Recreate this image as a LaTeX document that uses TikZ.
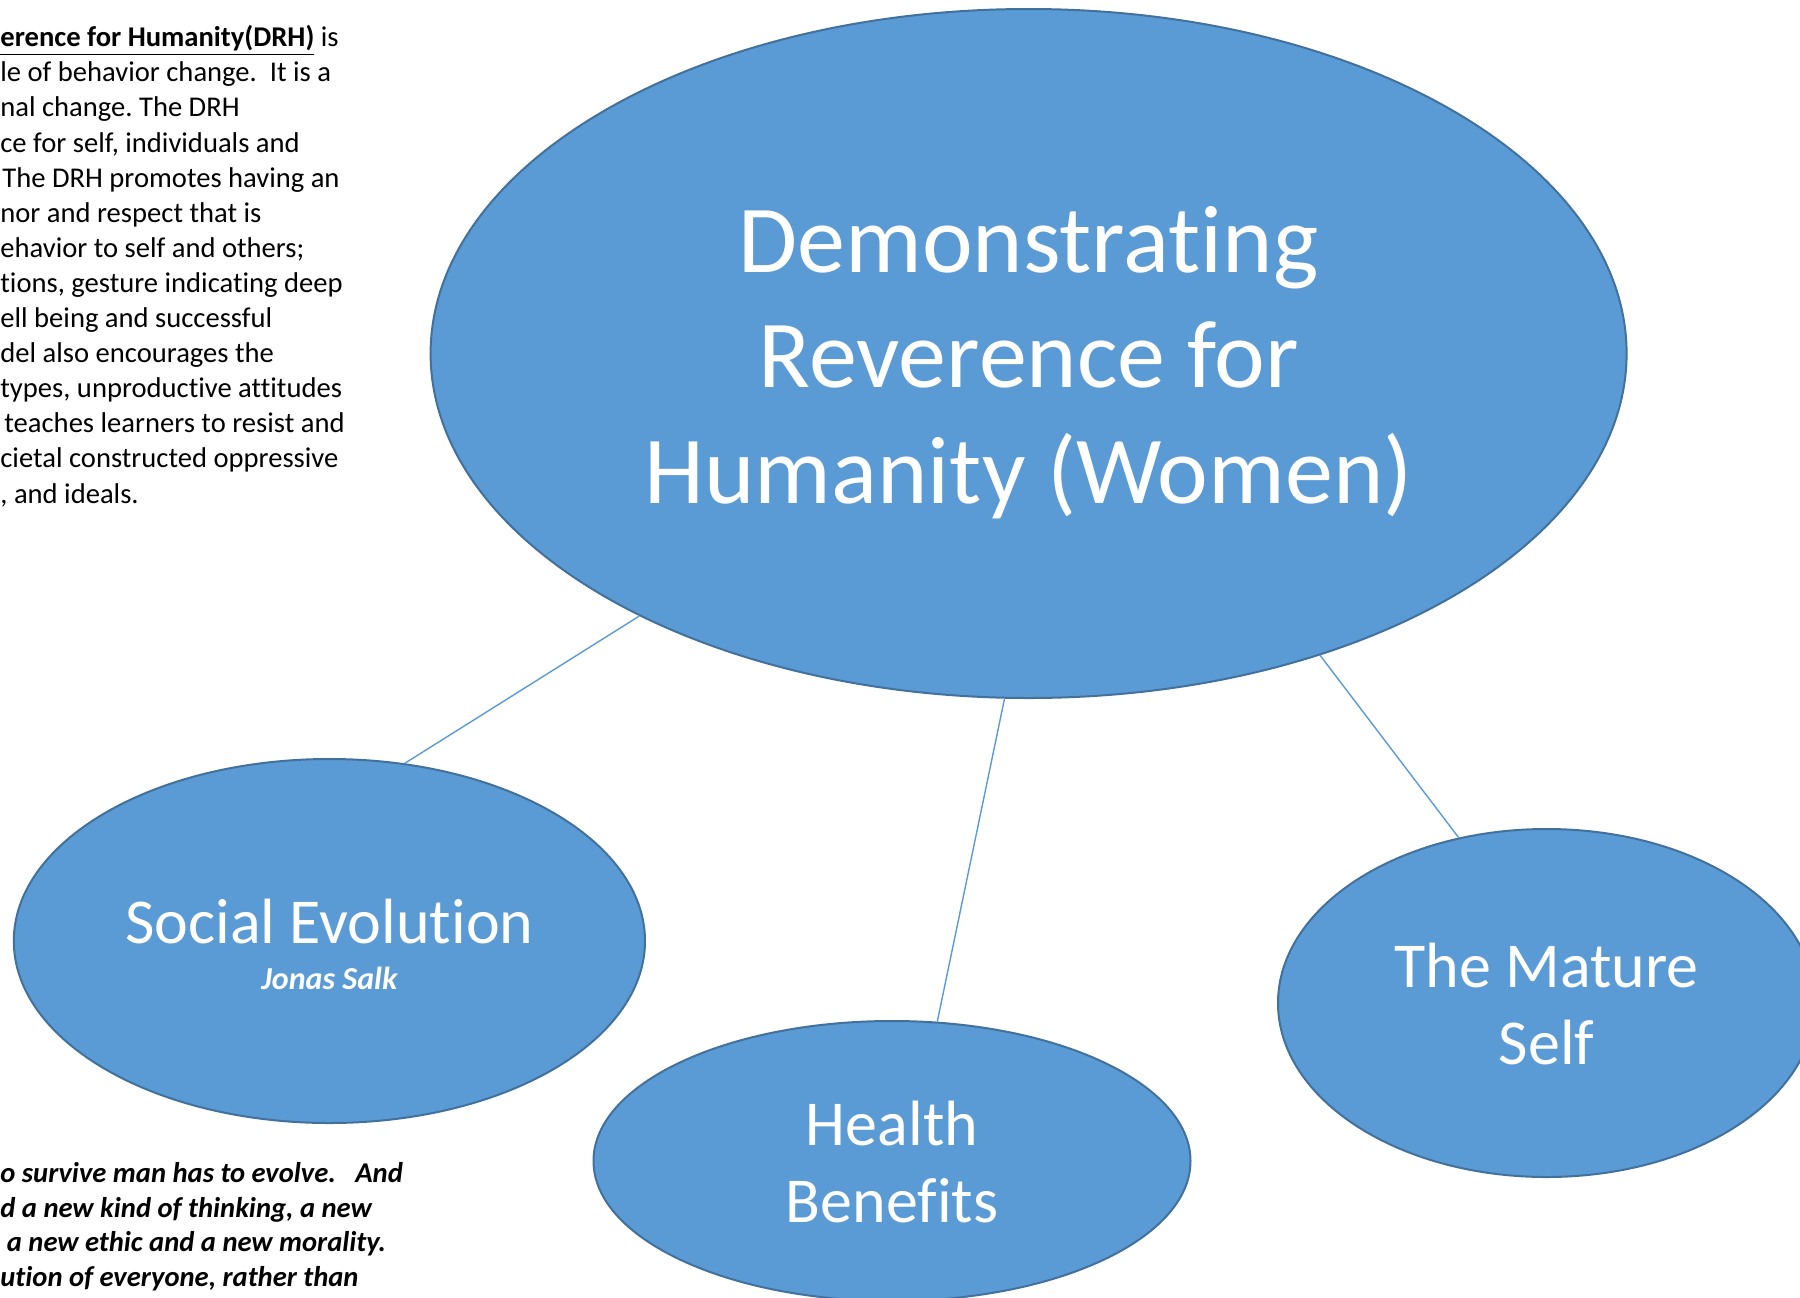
\documentclass[tikz,border=0pt]{standalone}
\usepackage{fontspec}
\setmainfont[Ligatures = NoCommon]{Carlito}
\frenchspacing
\usetikzlibrary{shapes.geometric}
\definecolor{bubblefill}{RGB}{91,155,213}
\definecolor{bubbleline}{RGB}{65,113,156}

\begin{document}
\begin{tikzpicture}[x = 0.5pt, y = -0.5pt,
  bubble/.style = {ellipse, draw = bubbleline, line width = 1pt, fill = bubblefill, inner sep = 0pt},
  link/.style = {draw = bubblefill, line width = 0.7pt},
  bubbletext/.style = {text = white, align = center, anchor = base, inner sep = 0pt},
  sidetext/.style = {align = left, anchor = base west, inner sep = 0pt}]
\clip (0,0) rectangle (1800,1297);
\fill [white] (0,0) rectangle (1800,1297);

% side notes, cut at the left edge (base = last line)
\node [sidetext, font = \fontsize{14.3}{17.55}\selectfont] (note) at (0,503) {%
\underline{\textbf{erence for Humanity(DRH)}} is\\
le of behavior change.\ \ It is a\\
nal change. The DRH\\
ce for self, individuals and\\
\hspace*{1pt}The DRH promotes having an\\
nor and respect that is\\
ehavior to self and others;\\
tions, gesture indicating deep\\
ell being and successful\\
del also encourages the\\
types, unproductive attitudes\\
\hspace*{2pt}teaches learners to resist and\\
cietal constructed oppressive\\
, and ideals.};
\node [sidetext, font = \fontsize{14.3}{17.2}\selectfont\bfseries\itshape] (quote) at (0,1286) {%
o survive man has to evolve.\ \ \ And\\
d a new kind of thinking, a new\\
\ a new ethic and a new morality.\\
ution of everyone, rather than};

% bubbles
\node [bubble, minimum width = 598pt, minimum height = 344.5pt] (drh) at (1028.6,353.5) {};
\node [bubble, minimum width = 315.6pt, minimum height = 182pt] (soc) at (329.4,941) {};
\node [bubble, minimum width = 298.5pt, minimum height = 140pt] (health) at (892,1161) {};
\node [bubble, minimum width = 268.6pt, minimum height = 174pt] (mature) at (1546.6,1003) {};

\node [bubbletext, font = \fontsize{48}{57.7}\selectfont] (drhtext) at (1028.6,503) {Demonstrating\\Reverence for\\Humanity (Women)};
\node [bubbletext, font = \fontsize{32}{38.5}\selectfont] (soctext) at (329.4,943.6) {Social Evolution};
\node [bubbletext, font = \fontsize{16}{19}\selectfont\bfseries\itshape] (salk) at (329.4,989.6) {Jonas Salk};
\node [bubbletext, font = \fontsize{32}{38.5}\selectfont] (healthtext) at (892,1222.6) {Health\\Benefits};
\node [bubbletext, font = \fontsize{32}{38.5}\selectfont] (maturetext) at (1546.6,1064) {The Mature\\Self};

\draw [link] (drh.214) -- (soc.67);
\draw [link] (drh.266) -- (health.72);
\draw [link] (drh.314) -- (mature.118);
\end{tikzpicture}
\end{document}
